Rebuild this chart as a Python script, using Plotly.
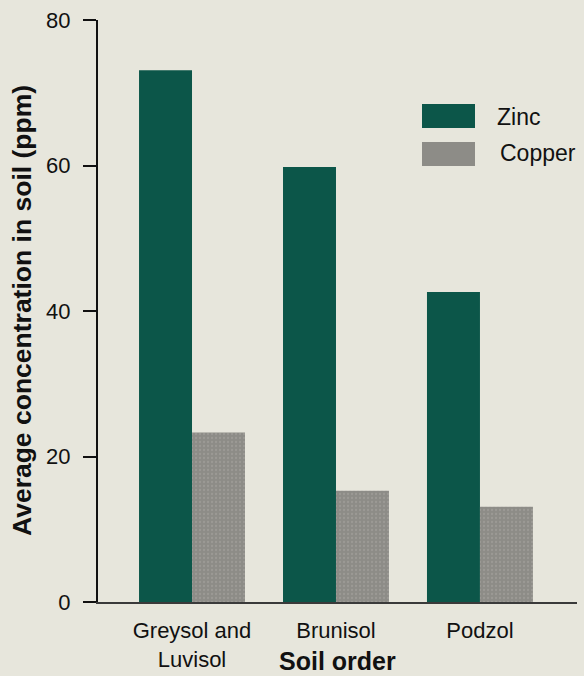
import plotly.graph_objects as go

categories = ["Greysol and<br>Luvisol", "Brunisol", "Podzol"]
zinc = [73.1, 59.8, 42.6]
copper = [23.3, 15.3, 13.1]
series_names = ["Zinc", "Copper"]
y_ticks = [0, 20, 40, 60, 80]

BG = "#e7e6dc"
ZINC_C = "#0c5649"
COPPER_C = "#8d8c87"
FONT = "Liberation Sans, Arial, sans-serif"
TXT = "#111111"

fig = go.Figure()
fig.add_trace(go.Bar(x=categories, y=zinc, name=series_names[0],
                     marker=dict(color=ZINC_C, line=dict(width=0))))
fig.add_trace(go.Bar(x=categories, y=copper, name=series_names[1],
                     marker=dict(color=COPPER_C, line=dict(width=0),
                                 pattern=dict(shape=".", fgcolor="#a9a8a2",
                                              bgcolor=COPPER_C, size=4, solidity=0.25))))

fig.update_layout(
    width=584, height=676,
    paper_bgcolor=BG, plot_bgcolor=BG,
    margin=dict(l=98, r=7, t=20, b=74, autoexpand=False),
    barmode="group", bargap=0.264, bargroupgap=0,
    showlegend=False,
    font=dict(family=FONT, color=TXT),
)
fig.update_xaxes(
    range=[-0.653, 2.674], automargin=False,
    showline=True, linecolor="#3a3a3a", linewidth=1.5,
    ticks="outside", ticklen=0, tickcolor=BG,
    ticklabelstandoff=8,
    tickfont=dict(size=22, family=FONT, color=TXT),
    showgrid=False, zeroline=False,
)
fig.update_yaxes(
    range=[0, 80], tickvals=y_ticks, automargin=False,
    showline=True, linecolor=TXT, linewidth=2,
    ticks="outside", ticklen=13, tickwidth=2, tickcolor=TXT,
    ticklabelstandoff=8,
    tickfont=dict(size=22, family=FONT, color=TXT),
    showgrid=False, zeroline=False,
)

# Axis titles
fig.add_annotation(text="<b>Soil order</b>", xref="paper", yref="paper",
                   x=0.5, y=(602 - 661) / 582, xanchor="center", yanchor="middle",
                   showarrow=False, font=dict(size=25, family=FONT, color=TXT))
fig.add_annotation(text="<b>Average concentration in soil (ppm)</b>", xref="paper", yref="paper",
                   x=(22 - 98) / 479, y=0.5, xanchor="center", yanchor="middle", textangle=-90,
                   showarrow=False, font=dict(size=26.5, family=FONT, color=TXT))

# Manual legend
def px_x(p):
    return (p - 98) / 479

def px_y(p):
    return (602 - p) / 582

fig.add_shape(type="rect", xref="paper", yref="paper",
              x0=px_x(422), x1=px_x(475), y0=px_y(128), y1=px_y(104),
              fillcolor=ZINC_C, line=dict(width=0))
fig.add_shape(type="rect", xref="paper", yref="paper",
              x0=px_x(422), x1=px_x(475), y0=px_y(166), y1=px_y(142),
              fillcolor=COPPER_C, line=dict(width=0))
fig.add_annotation(text=series_names[0], xref="paper", yref="paper",
                   x=px_x(495), y=px_y(117), xanchor="left", yanchor="middle",
                   showarrow=False, font=dict(size=23, family=FONT, color=TXT))
fig.add_annotation(text=series_names[1], xref="paper", yref="paper",
                   x=px_x(498), y=px_y(153), xanchor="left", yanchor="middle",
                   showarrow=False, font=dict(size=23, family=FONT, color=TXT))

fig.write_html("out.html", config={"displayModeBar": False},
               post_script="document.body.style.margin='0';document.body.style.background='%s';document.body.style.overflow='hidden';" % BG)
